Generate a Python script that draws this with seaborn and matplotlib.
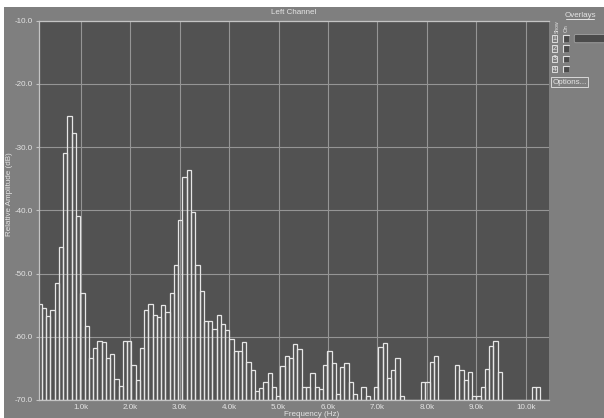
import numpy as np
import pandas as pd
import matplotlib.pyplot as plt
from matplotlib.patches import Rectangle, FancyBboxPatch
from matplotlib.ticker import FixedLocator, FuncFormatter
import seaborn as sns

# FFT bins of the left channel, 44.1 kHz / 512 points, first visible bin = 2
bin_hz = 44100 / 512
first_bin = 2
levels_db = [
    -54.8, -55.4, -56.7, -55.7, -51.5, -45.8, -30.9, -25.0, -27.8, -40.9,   # k2..k11
    -53.1, -58.3, -63.3, -61.8, -60.6, -60.9, -63.3, -62.8, -66.6, -67.8,   # k12..k21
    -60.6, -60.6, -64.5, -66.9, -61.8, -55.7, -54.8, -56.6, -56.8, -54.9,   # k22..k31
    -56.1, -53.0, -48.7, -41.5, -34.8, -33.6, -40.2, -48.6, -52.7, -57.5,   # k32..k41
    -57.5, -58.8, -56.5, -58.0, -59.0, -60.4, -62.2, -62.2, -60.8, -64.0,   # k42..k51
    -65.3, -68.6, -68.1, -67.2, -65.8, -68.0, -69.4, -64.7, -63.0, -63.4,   # k52..k61
    -61.2, -61.9, -67.9, -67.9, -65.8, -67.9, -68.2, -64.4, -62.2, -64.2,   # k62..k71
    -69.0, -64.8, -64.1, -67.2, -69.1, -70.0, -67.9, -69.4, -70.0, -67.9,   # k72..k81
    -61.6, -61.0, -66.5, -65.3, -63.4, -69.3, -70.0, -70.0, -70.0, -70.0,   # k82..k91
    -67.1, -67.2, -64.0, -63.0, -70.0, -70.0, -70.0, -70.0, -64.4, -65.2,   # k92..k101
    -66.8, -65.6, -69.3, -69.4, -67.9, -65.1, -61.5, -60.6, -65.5, -70.0,   # k102..k111
    -70.0, -70.0, -70.0, -70.0, -70.0, -70.0, -68.0, -68.0, -70.0, -70.0,   # k112..k121
]
floor_db = -70.0
top_db = -10.0
y_ticks_db = [-70.0, -60.0, -50.0, -40.0, -30.0, -20.0, -10.0]
x_ticks_hz = [1000, 2000, 3000, 4000, 5000, 6000, 7000, 8000, 9000, 10000]
x_range_hz = (156, 10470)
overlay_rows = ["1", "2", "3", "4"]

bins = np.arange(first_bin, first_bin + len(levels_db))
edges = ((np.arange(len(levels_db) + 1) + first_bin - 0.5) * bin_hz).tolist()
df = pd.DataFrame({
    "freq": bins * bin_hz,
    # bars are drawn up from the -70 dB floor
    "above_floor": np.array(levels_db) - floor_db,
})

W, H = 604, 418
panel_bg = "#7f7f7f"
plot_bg = "#525252"
text_c = "#e4e4e4"
fs = 5.8

sns.set_theme(style="dark")
plt.rcParams["font.family"] = ["Liberation Sans", "DejaVu Sans"]

fig = plt.figure(figsize=(W / 100, H / 100), dpi=100, facecolor=panel_bg)
left, right, top, bottom = 39, 549, 20.7, 400
ax = fig.add_axes([left / W, 1 - bottom / H, (right - left) / W, (bottom - top) / H])
ax.set_facecolor(plot_bg)

sns.histplot(data=df, x="freq", weights="above_floor", bins=edges,
             element="bars", fill=False, color="#e6e6e6", linewidth=0.9, ax=ax)

ax.set_xlim(*x_range_hz)
ax.set_ylim(0, top_db - floor_db)
ax.xaxis.set_major_locator(FixedLocator(x_ticks_hz))
ax.xaxis.set_major_formatter(FuncFormatter(lambda v, p: f"{v / 1000:.1f}k"))
ax.yaxis.set_major_locator(FixedLocator([t - floor_db for t in y_ticks_db]))
ax.yaxis.set_major_formatter(FuncFormatter(lambda v, p: f"{v + floor_db:.1f}"))

ax.grid(True, color="#959595", linewidth=0.8)
ax.set_axisbelow(True)
for side in ["left", "top", "bottom"]:
    ax.spines[side].set_visible(True)
    ax.spines[side].set_color("#c4c4c4")
    ax.spines[side].set_linewidth(0.9)
ax.spines["right"].set_visible(False)

ax.tick_params(axis="y", length=2.5, width=0.8, color="#c4c4c4", pad=2,
               labelsize=fs, labelcolor=text_c, left=True)
ax.tick_params(axis="x", length=0, pad=2.6, labelsize=fs, labelcolor=text_c)
ax.set_xlabel("")
ax.set_ylabel("")

# overlay in pixel coordinates for the window chrome
ui = fig.add_axes([0, 0, 1, 1], zorder=5)
ui.set_xlim(0, W)
ui.set_ylim(H, 0)
ui.axis("off")
ui.patch.set_alpha(0)

ui.add_patch(Rectangle((0, 0), W, 7, color="white", lw=0))
ui.add_patch(Rectangle((0, 0), 4, H, color="white", lw=0))

ui.text((left + right) / 2, 12, "Left Channel", ha="center", va="center",
        fontsize=fs, color=text_c)
ui.text(312, 414.5, "Frequency (Hz)", ha="center", va="center",
        fontsize=fs, color=text_c)
ui.text(10, 194, "Relative Amplitude (dB)", ha="center", va="center",
        rotation=90, fontsize=fs, color=text_c)

# overlays side panel
ui.text(580, 15.5, "Overlays", ha="center", va="center", fontsize=fs, color=text_c)
ui.plot([566, 594], [19.3, 19.3], color=text_c, lw=0.7)
ui.text(557.5, 26.5, "Show", ha="center", va="center", rotation=90, fontsize=3.6, color=text_c)
ui.text(566.5, 28, "On", ha="center", va="center", rotation=90, fontsize=4.2, color=text_c)
for i, lab in enumerate(overlay_rows):
    y0 = 35 + i * 10.3
    ui.add_patch(Rectangle((552.3, y0), 5, 6.5, fill=False, ec="#dcdcdc", lw=0.7))
    ui.text(554.8, y0 + 3.4, lab, ha="center", va="center", fontsize=5, color=text_c)
    ui.add_patch(Rectangle((562.7, y0), 6.3, 6.5, fc="#4a4a4a", ec="none"))
    ui.plot([562.7, 562.7, 569], [y0 + 6.5, y0, y0], color="#e0e0e0", lw=0.8)
ui.add_patch(FancyBboxPatch((574.3, 34.5), 32, 8.2, boxstyle="round,pad=0,rounding_size=1.5",
                            fc="#4b4b4b", ec="#9a9a9a", lw=0.7))
ui.add_patch(Rectangle((551, 77.3), 37, 9.4, fill=False, ec="#d8d8d8", lw=0.7))
ui.text(569.5, 82.2, "Options...", ha="center", va="center", fontsize=fs, color=text_c)

fig.savefig("out.png", dpi=100, facecolor=panel_bg)
